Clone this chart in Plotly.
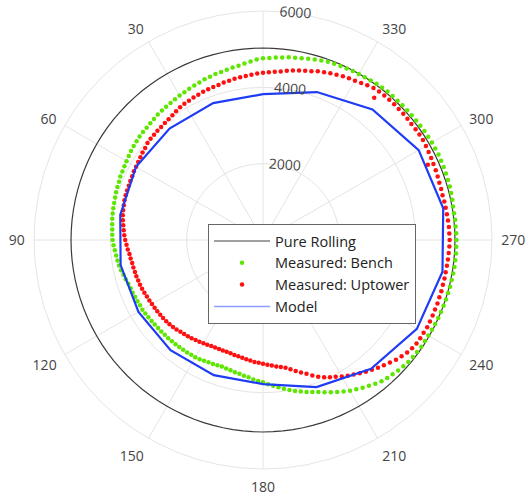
import plotly.graph_objects as go

# ---------------- data ----------------
angle_labels = ["", "30", "60", "90", "120", "150", "180", "210", "240", "270", "300", "330"]
angle_ticks = [0, 30, 60, 90, 120, 150, 180, 210, 240, 270, 300, 330]
radial_ticks = [2000, 4000, 6000]

pure_rolling_r = 5030
rolling_theta = list(range(0, 361, 3))

bench_theta = list(range(0, 360, 2))
bench_r = [
    4760, 4732, 4688, 4652, 4611,
    4590, 4563, 4538, 4522, 4497,
    4480, 4452, 4428, 4411, 4388,
    4370, 4352, 4331, 4318, 4302,
    4290, 4268, 4252, 4238, 4231,
    4220, 4203, 4188, 4171, 4148,
    4130, 4112, 4098, 4091, 4068,
    4060, 4048, 4032, 4018, 4011,
    4000, 3988, 3972, 3958, 3951,
    3940, 3918, 3892, 3868, 3851,
    3830, 3802, 3768, 3742, 3708,
    3690, 3682, 3668, 3661, 3648,
    3650, 3638, 3622, 3608, 3601,
    3590, 3586, 3578, 3576, 3568,
    3565, 3561, 3558, 3556, 3548,
    3550, 3538, 3522, 3508, 3501,
    3490, 3488, 3502, 3518, 3542,
    3560, 3592, 3618, 3662, 3698,
    3730, 3782, 3828, 3882, 3938,
    3990, 4042, 4088, 4142, 4188,
    4240, 4302, 4368, 4432, 4498,
    4560, 4612, 4668, 4722, 4778,
    4830, 4862, 4888, 4922, 4948,
    4970, 4982, 4988, 5002, 4998,
    5005, 5012, 5018, 5026, 5030,
    5035, 5042, 5044, 5052, 5054,
    5060, 5066, 5064, 5072, 5068,
    5070, 5066, 5058, 5062, 5054,
    5055, 5072, 5078, 5092, 5094,
    5100, 5106, 5108, 5116, 5110,
    5110, 5104, 5102, 5094, 5090,
    5085, 5082, 5078, 5076, 5074,
    5075, 5068, 5062, 5044, 5032,
    5020, 5012, 4998, 4992, 4978,
    4970, 4946, 4918, 4896, 4868,
    4850, 4832, 4808, 4792, 4774,
]

uptower_theta = list(range(0, 360, 2)) + [294.5, 322]
uptower_r = [
    4380, 4362, 4341, 4322, 4303,
    4290, 4268, 4252, 4228, 4216,
    4200, 4186, 4168, 4152, 4133,
    4120, 4098, 4072, 4038, 4017,
    4000, 3988, 3982, 3968, 3962,
    3950, 3918, 3902, 3874, 3857,
    3840, 3832, 3813, 3806, 3793,
    3790, 3784, 3776, 3758, 3747,
    3730, 3708, 3682, 3658, 3637,
    3610, 3578, 3552, 3518, 3502,
    3480, 3472, 3458, 3452, 3438,
    3430, 3418, 3402, 3384, 3372,
    3360, 3348, 3342, 3328, 3322,
    3310, 3296, 3278, 3262, 3233,
    3215, 3198, 3182, 3158, 3142,
    3120, 3112, 3093, 3086, 3078,
    3078, 3082, 3088, 3102, 3113,
    3130, 3152, 3173, 3202, 3218,
    3240, 3272, 3298, 3332, 3358,
    3400, 3462, 3538, 3612, 3688,
    3780, 3862, 3938, 4002, 4058,
    4130, 4192, 4248, 4312, 4378,
    4440, 4502, 4558, 4622, 4688,
    4740, 4792, 4828, 4852, 4858,
    4860, 4872, 4868, 4866, 4862,
    4865, 4858, 4862, 4858, 4861,
    4860, 4866, 4872, 4878, 4886,
    4890, 4884, 4882, 4873, 4866,
    4860, 4856, 4848, 4856, 4858,
    4870, 4882, 4888, 4902, 4914,
    4930, 4942, 4944, 4942, 4934,
    4940, 4946, 4944, 4948, 4943,
    4945, 4938, 4926, 4888, 4852,
    4820, 4798, 4776, 4738, 4712,
    4680, 4648, 4602, 4568, 4542,
    4510, 4478, 4442, 4418, 4398,
] + [4747, 4731]

model_theta = [0, 20, 40, 60, 80, 100, 120, 140, 160, 180, 200, 220, 240, 260, 280, 300, 320, 340, 360]
model_r = [3820, 3818, 3810, 3840, 3798, 3788, 3768, 3770, 3768, 3775, 4100, 4405, 4655, 4775, 4795, 4710, 4462, 4125, 3820]

# ---------------- figure ----------------
fig = go.Figure()

fig.add_trace(go.Scatterpolar(
    r=[pure_rolling_r] * len(rolling_theta), theta=rolling_theta, mode="lines",
    line=dict(color="#3a3a3a", width=1.2), showlegend=False, hoverinfo="skip"))
fig.add_trace(go.Scatterpolar(
    r=bench_r, theta=bench_theta, mode="markers",
    marker=dict(color="#5EE600", size=4.5), showlegend=False))
fig.add_trace(go.Scatterpolar(
    r=uptower_r, theta=uptower_theta, mode="markers",
    marker=dict(color="#FF1010", size=4.5), showlegend=False))
fig.add_trace(go.Scatterpolar(
    r=model_r, theta=model_theta, mode="lines",
    line=dict(color="#1E3CF5", width=2.2), showlegend=False))

# legend entries
fig.add_trace(go.Scatterpolar(r=[None], theta=[None], mode="lines", name="Pure Rolling",
                              line=dict(color="#a0a0a0", width=2)))
fig.add_trace(go.Scatterpolar(r=[None], theta=[None], mode="markers", name="Measured: Bench",
                              marker=dict(color="#5EE600", size=4.5)))
fig.add_trace(go.Scatterpolar(r=[None], theta=[None], mode="markers", name="Measured: Uptower",
                              marker=dict(color="#FF1010", size=4.5)))
fig.add_trace(go.Scatterpolar(r=[None], theta=[None], mode="lines", name="Model",
                              line=dict(color="#8c9cff", width=1.5)))

fig.update_layout(
    width=529, height=497,
    margin=dict(l=34, r=37, t=11, b=28),
    paper_bgcolor="white",
    font=dict(family="Open Sans", size=14, color="#444"),
    showlegend=True,
    legend=dict(x=0.38, y=0.535, xanchor="left", yanchor="top",
                bgcolor="white", bordercolor="#666", borderwidth=1,
                font=dict(size=14.5, color="#222"), itemwidth=56,
                tracegroupgap=0),
    polar=dict(
        bgcolor="white",
        domain=dict(x=[0, 1], y=[0, 1]),
        angularaxis=dict(rotation=90, direction="counterclockwise",
                         tickmode="array", tickvals=angle_ticks, ticktext=angle_labels,
                         showgrid=True, gridcolor="#e4e4e4", gridwidth=1,
                         linecolor="#e4e4e4", showline=True,
                         ticks="outside", ticklen=6, tickcolor="rgba(0,0,0,0)",
                         tickfont=dict(size=14, color="#444")),
        radialaxis=dict(range=[0, 6000], tickmode="array", tickvals=radial_ticks,
                        ticktext=[str(v) for v in radial_ticks],
                        angle=86, tickangle=90, showline=False, showgrid=True,
                        gridcolor="#e4e4e4", gridwidth=1, ticks="",
                        tickfont=dict(size=14, color="#444")),
    ),
)

fig.write_html("out.html")
